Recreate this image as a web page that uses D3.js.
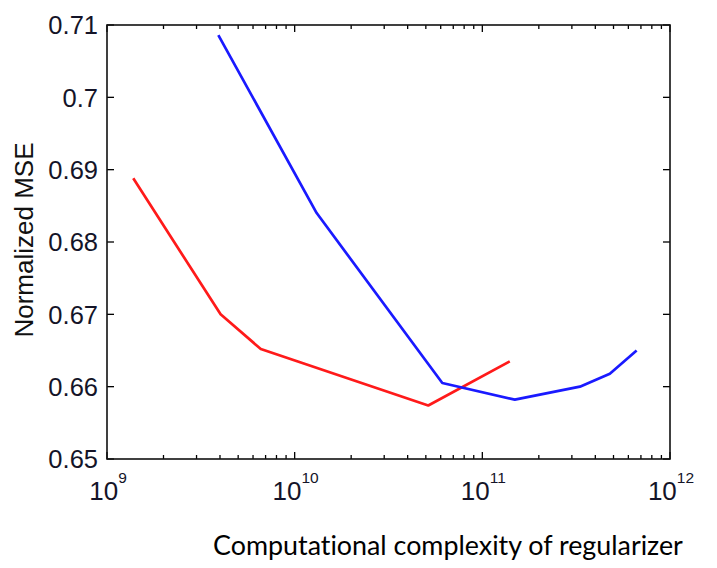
<!DOCTYPE html>
<html>
<head>
<meta charset="utf-8">
<script src="https://cdn.jsdelivr.net/npm/d3@7"></script>
<style>
  html, body { margin: 0; padding: 0; background: #fff; }
  svg { display: block; }
  text { font-variant-ligatures: none; }
</style>
</head>
<body>
<svg id="chart" width="717" height="568"></svg>
<script>
// ---- data ----
const redX = [1.38e9, 4.03e9, 6.6e9, 5.15e10, 1.40e11];
const redY = [0.6888, 0.6700, 0.6652, 0.6574, 0.6635];
const blueX = [3.92e9, 1.31e10, 6.12e10, 1.49e11, 3.31e11, 4.78e11, 6.64e11];
const blueY = [0.7086, 0.6840, 0.6605, 0.6582, 0.6600, 0.6618, 0.6650];
const yTicks = [0.65, 0.66, 0.67, 0.68, 0.69, 0.70, 0.71];
const yTickLabels = ["0.65", "0.66", "0.67", "0.68", "0.69", "0.7", "0.71"];
const xTicks = [1e9, 1e10, 1e11, 1e12];
const xTickExps = ["9", "10", "11", "12"];
const yLabel = "Normalized MSE";
const xTitle = "Computational complexity of regularizer";

// ---- layout ----
const svg = d3.select("#chart");
const L = 107, R = 670, T = 25, B = 459;
const x = d3.scaleLog().domain([1e9, 1e12]).range([L, R]);
const y = d3.scaleLinear().domain([0.65, 0.71]).range([B, T]);

const g = svg.append("g");

// minor x ticks
const minor = [];
for (let e = 9; e < 12; e++) for (let k = 2; k <= 9; k++) minor.push(k * Math.pow(10, e));

const tickColor = "#000";
g.selectAll(".mxb").data(minor).enter().append("line")
  .attr("x1", d => x(d)).attr("x2", d => x(d))
  .attr("y1", B).attr("y2", B - 4)
  .attr("stroke", tickColor).attr("stroke-width", 1.3);
g.selectAll(".mxt").data(minor).enter().append("line")
  .attr("x1", d => x(d)).attr("x2", d => x(d))
  .attr("y1", T).attr("y2", T + 4)
  .attr("stroke", tickColor).attr("stroke-width", 1.3);
g.selectAll(".Mxb").data(xTicks).enter().append("line")
  .attr("x1", d => x(d)).attr("x2", d => x(d))
  .attr("y1", B).attr("y2", B - 7)
  .attr("stroke", tickColor).attr("stroke-width", 1.3);
g.selectAll(".Mxt").data(xTicks).enter().append("line")
  .attr("x1", d => x(d)).attr("x2", d => x(d))
  .attr("y1", T).attr("y2", T + 7)
  .attr("stroke", tickColor).attr("stroke-width", 1.3);
g.selectAll(".yl").data(yTicks).enter().append("line")
  .attr("x1", L).attr("x2", L + 7)
  .attr("y1", d => y(d)).attr("y2", d => y(d))
  .attr("stroke", tickColor).attr("stroke-width", 1.3);
g.selectAll(".yr").data(yTicks).enter().append("line")
  .attr("x1", R).attr("x2", R - 7)
  .attr("y1", d => y(d)).attr("y2", d => y(d))
  .attr("stroke", tickColor).attr("stroke-width", 1.3);

// lines
const line = d3.line().x(d => x(d[0])).y(d => y(d[1]));
g.append("path").datum(redX.map((v, i) => [v, redY[i]]))
  .attr("d", line).attr("fill", "none").attr("stroke", "#ff1a1a")
  .attr("stroke-width", 2.7).attr("stroke-linejoin", "round");
g.append("path").datum(blueX.map((v, i) => [v, blueY[i]]))
  .attr("d", line).attr("fill", "none").attr("stroke", "#1a1aff")
  .attr("stroke-width", 2.7).attr("stroke-linejoin", "round");

// box
g.append("rect").attr("x", L).attr("y", T).attr("width", R - L).attr("height", B - T)
  .attr("fill", "none").attr("stroke", "#111").attr("stroke-width", 1.6);

// y tick labels
const txtColor = "#141428";
g.selectAll(".ytl").data(yTicks).enter().append("text")
  .attr("x", L - 9).attr("y", d => y(d))
  .attr("dy", "0.36em")
  .attr("text-anchor", "end")
  .attr("font-family", "Liberation Sans, Arial, sans-serif")
  .attr("font-size", 25.5)
  .attr("fill", txtColor)
  .text((d, i) => yTickLabels[i]);

// x tick labels 10^n
xTicks.forEach((d, i) => {
  const t = g.append("text")
    .attr("x", x(d) + 1).attr("y", 500)
    .attr("text-anchor", "middle")
    .attr("font-family", "Liberation Sans, Arial, sans-serif")
    .attr("font-size", 26)
    .attr("fill", txtColor);
  t.append("tspan").text("10");
  t.append("tspan").attr("dy", -17).attr("font-size", 15.5).text(xTickExps[i]);
});

// y label
g.append("text")
  .attr("transform", `translate(33,240) rotate(-90)`)
  .attr("text-anchor", "middle")
  .attr("font-family", "Liberation Sans, Arial, sans-serif")
  .attr("font-size", 26)
  .attr("fill", "#111")
  .text(yLabel);

// bottom title
const title = g.append("text")
  .attr("x", 448).attr("y", 555)
  .attr("text-anchor", "middle")
  .attr("font-family", "Lato, Open Sans, sans-serif")
  .attr("font-size", 28)
  .attr("fill", "#000")
  .text(xTitle);
const w = title.node().getComputedTextLength();
title.attr("font-size", 28 * 470 / w);
</script>
</body>
</html>
